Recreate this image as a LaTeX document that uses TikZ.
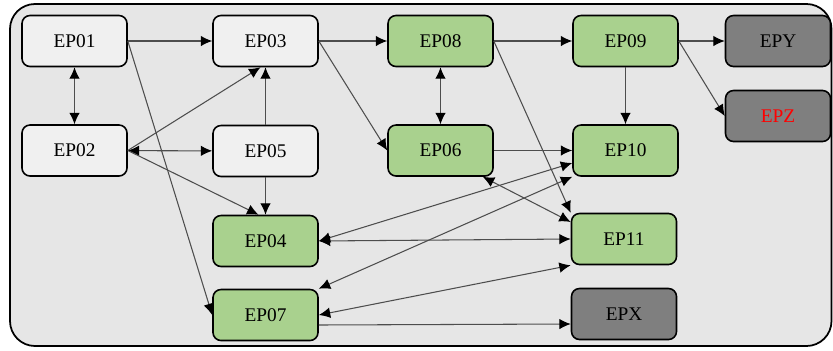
\documentclass[tikz,border=0pt]{standalone}
\usepackage{fontspec}
\setmainfont{Liberation Serif}
\usetikzlibrary{arrows.meta}
\definecolor{fondo}{HTML}{E6E6E6}
\definecolor{gris}{HTML}{F0F0F0}
\definecolor{verde}{HTML}{A9D18E}
\definecolor{oscuro}{HTML}{7F7F7F}
\definecolor{linea}{HTML}{4D4D4D}
\tikzset{
  ep/.style={draw=black, line width=0.9pt, rounded corners=0.16cm, minimum width=2.1cm, minimum height=1.02cm, font=\fontsize{11}{13}\selectfont, fill=gris},
  epverde/.style={ep, fill=verde},
  eposcuro/.style={ep, fill=oscuro},
  flecha/.style={draw=linea, line width=0.6pt, -{Latex[length=6.5pt,width=6pt,color=black]}},
  doble/.style={draw=linea, line width=0.6pt, {Latex[length=6.5pt,width=6pt,color=black]}-{Latex[length=6.5pt,width=6pt,color=black]}}
}
\begin{document}
\begin{tikzpicture}
  \useasboundingbox (0,0) rectangle (16.66,7.0);
  % Recuadro de fondo
  \draw[fill=fondo, line width=1pt, rounded corners=0.5cm] (0.2,0.08) rectangle (16.63,6.92);
  % Nodos
  \node[ep] (EP01) at (1.49,6.18) {EP01};
  \node[ep] (EP03) at (5.31,6.18) {EP03};
  \node[epverde] (EP08) at (8.81,6.18) {EP08};
  \node[epverde] (EP09) at (12.51,6.18) {EP09};
  \node[eposcuro] (EPY) at (15.56,6.18) {EPY};
  \node[ep] (EP02) at (1.49,3.99) {EP02};
  \node[ep] (EP05) at (5.31,3.98) {EP05};
  \node[epverde] (EP06) at (8.81,3.99) {EP06};
  \node[epverde] (EP10) at (12.51,3.99) {EP10};
  \node[eposcuro, text=red] (EPZ) at (15.56,4.68) {EPZ};
  \node[epverde] (EP04) at (5.31,2.18) {EP04};
  \node[epverde] (EP07) at (5.31,0.70) {EP07};
  \node[epverde] (EP11) at (12.48,2.22) {EP11};
  \node[eposcuro] (EPX) at (12.48,0.72) {EPX};
  % Conexiones
  \draw[flecha] (EP01) -- (EP03);
  \draw[doble] (EP01) -- (EP02);
  \draw[flecha] (EP01.east) -- (EP07.west);
  \draw[flecha] (EP02.east) -- ([xshift=-0.1cm]EP03.south);
  \draw[doble] (EP02) -- (EP05);
  \draw[flecha] (EP02.east) -- ([xshift=-0.14cm]EP04.north);
  \draw[flecha] (EP05) -- (EP03);
  \draw[flecha] (EP05) -- (EP04);
  \draw[flecha] (EP03) -- (EP08);
  \draw[flecha] (EP03.east) -- (EP06.west);
  \draw[flecha] (EP08) -- (EP09);
  \draw[doble] (EP08) -- (EP06);
  \draw[flecha] (EP08.east) -- (EP11.north west);
  \draw[flecha] (EP09) -- (EPY);
  \draw[flecha] (EP09.east) -- (EPZ.west);
  \draw[flecha] (EP09) -- (EP10);
  \draw[flecha] (EP06) -- (EP10);
  \draw[doble] ([xshift=-0.22cm]EP06.south east) -- ([yshift=0.34cm]EP11.west);
  \draw[doble] (EP04.east) -- ([yshift=-0.25cm]EP10.west);
  \draw[doble] (EP07.north east) -- (EP10.south west);
  \draw[doble] (EP04.east) -- (EP11.west);
  \draw[doble] (EP07.east) -- (EP11.south west);
  \draw[flecha] ([yshift=-0.2cm]EP07.east) -- ([yshift=-0.2cm]EPX.west);
\end{tikzpicture}
\end{document}
